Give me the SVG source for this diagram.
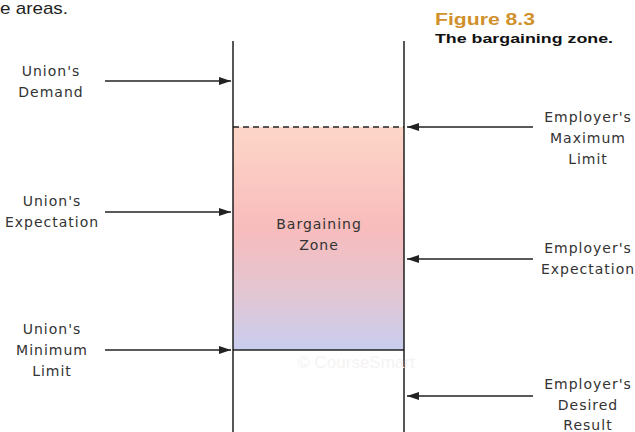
<svg xmlns="http://www.w3.org/2000/svg" width="635" height="432" viewBox="0 0 635 432">
<defs>
<linearGradient id="zoneGrad" x1="0" y1="0" x2="0" y2="1">
<stop offset="0" stop-color="#fdd6c8"/>
<stop offset="0.45" stop-color="#f8bcbc"/>
<stop offset="0.75" stop-color="#e2c6d3"/>
<stop offset="1" stop-color="#c8cdef"/>
</linearGradient>
<marker id="ah" viewBox="0 0 12 8" refX="12" refY="4" markerWidth="12" markerHeight="8" markerUnits="userSpaceOnUse" orient="auto">
<path d="M0,0 L12,4 L0,8 Z" fill="#222"/>
</marker>
</defs>
<style>
.lbl{font-family:"DejaVu Sans","Liberation Sans",sans-serif;font-size:14px;fill:#333;text-anchor:middle;letter-spacing:1px}
.arr{stroke:#222;stroke-width:1.5;fill:none;marker-end:url(#ah)}
.axis{stroke:#111;stroke-width:1.4}
.ttl{font-family:"Liberation Sans",Arial,sans-serif;font-weight:bold}
</style>
<rect width="635" height="432" fill="#fff"/>
<text x="0" y="14" textLength="68" lengthAdjust="spacingAndGlyphs" style="font-family:'Liberation Sans',Arial,sans-serif;font-size:17px;fill:#222">e areas.</text>
<text class="ttl" x="435" y="25" textLength="100" lengthAdjust="spacingAndGlyphs" style="font-size:16px;fill:#d0902c">Figure 8.3</text>
<text class="ttl" x="435" y="43" textLength="178" lengthAdjust="spacingAndGlyphs" style="font-size:13.5px;fill:#111">The bargaining zone.</text>

<g id="zone">
<rect x="233" y="127" width="171" height="223" fill="url(#zoneGrad)"/>
<line x1="233" y1="127" x2="404" y2="127" stroke="#222" stroke-width="1.3" stroke-dasharray="6,4"/>
<line x1="233" y1="350" x2="404" y2="350" stroke="#222" stroke-width="1.4"/>
<text class="lbl" x="319" y="229">Bargaining</text>
<text class="lbl" x="319" y="250">Zone</text>
</g>
<g id="axes">
<line class="axis" x1="233" y1="41" x2="233" y2="432"/>
<line class="axis" x1="404" y1="41" x2="404" y2="432"/>
</g>
<text x="356" y="368" style="font-family:'Liberation Sans',Arial,sans-serif;font-size:17px;fill:#f5f3f3;text-anchor:middle">© CourseSmart</text>

<g id="connectors">
<line class="arr" x1="105" y1="81" x2="231" y2="81"/>
<line class="arr" x1="105" y1="212" x2="231" y2="212"/>
<line class="arr" x1="105" y1="350" x2="231" y2="350"/>
<line class="arr" x1="533" y1="127" x2="407" y2="127"/>
<line class="arr" x1="533" y1="259" x2="407" y2="259"/>
<line class="arr" x1="533" y1="396" x2="407" y2="396"/>
</g>

<g id="union-demand">
<text class="lbl" x="51" y="76">Union's</text>
<text class="lbl" x="51" y="97">Demand</text>
</g>
<g id="union-expectation">
<text class="lbl" x="52" y="206">Union's</text>
<text class="lbl" x="52" y="227">Expectation</text>
</g>
<g id="union-minimum">
<text class="lbl" x="52" y="334">Union's</text>
<text class="lbl" x="52" y="355">Minimum</text>
<text class="lbl" x="52" y="376">Limit</text>
</g>
<g id="employer-maximum">
<text class="lbl" x="588" y="122">Employer's</text>
<text class="lbl" x="588" y="143">Maximum</text>
<text class="lbl" x="588" y="164">Limit</text>
</g>
<g id="employer-expectation">
<text class="lbl" x="588" y="253">Employer's</text>
<text class="lbl" x="588" y="274">Expectation</text>
</g>
<g id="employer-desired">
<text class="lbl" x="588" y="389">Employer's</text>
<text class="lbl" x="588" y="410">Desired</text>
<text class="lbl" x="588" y="430">Result</text>
</g>
</svg>
